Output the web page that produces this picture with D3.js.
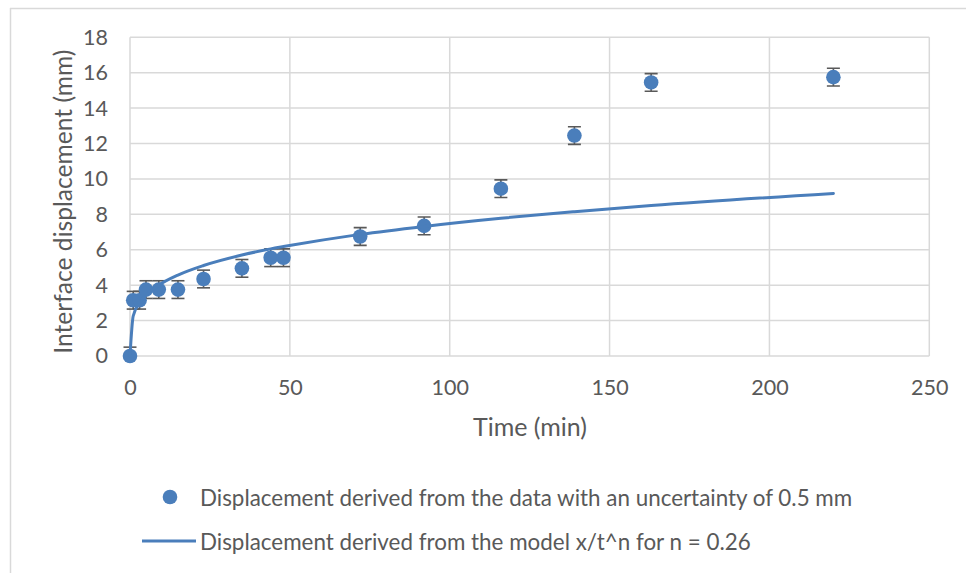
<!DOCTYPE html>
<html>
<head>
<meta charset="utf-8">
<script src="https://cdn.jsdelivr.net/npm/d3@7"></script>
<style>
  html, body { margin: 0; padding: 0; background: #fff; }
  svg { display: block; }
  text { font-family: Lato, "Open Sans", sans-serif; fill: #595959; }
</style>
</head>
<body>
<svg id="chart" width="966" height="573"></svg>
<script>
// Measured interface displacement (mm) against time (min)
const times = [0, 1, 3, 5, 9, 15, 23, 35, 44, 48, 72, 92, 116, 139, 163, 220];
const measured = [0, 3.15, 3.15, 3.75, 3.75, 3.75, 4.35, 4.95, 5.55, 5.55, 6.75, 7.35, 9.45, 12.45, 15.45, 15.75];
const uncertainty = 0.5;
// Model curve x/t^n (n = 0.26) evaluated at the same times
const model = [0, 2.26, 3.01, 3.43, 4.00, 4.57, 5.11, 5.70, 6.05, 6.18, 6.87, 7.32, 7.78, 8.15, 8.50, 9.18];

const xTicks = [0, 50, 100, 150, 200, 250];
const yTicks = [0, 2, 4, 6, 8, 10, 12, 14, 16, 18];

const xLabel = "Time (min)";
const yLabel = "Interface displacement (mm)";
const legendLabels = [
  "Displacement derived from the data with an uncertainty of 0.5 mm",
  "Displacement derived from the model x/t^n for n = 0.26"
];

const blue = "#4A7EBB";
const grid = "#d9d9d9";
const dark = "#595959";

const svg = d3.select("#chart");

// outer frame (top and left edges)
svg.append("line").attr("x1", 10).attr("x2", 966).attr("y1", 8.5).attr("y2", 8.5)
  .attr("stroke", grid).attr("stroke-width", 1.5);
svg.append("line").attr("x1", 10.5).attr("x2", 10.5).attr("y1", 8).attr("y2", 573)
  .attr("stroke", grid).attr("stroke-width", 1.5);

const x = d3.scaleLinear().domain([0, 250]).range([130, 929.3]);
const y = d3.scaleLinear().domain([0, 18]).range([356, 37.3]);

// gridlines
svg.append("g").selectAll("line").data(yTicks).join("line")
  .attr("x1", x(0)).attr("x2", x(250))
  .attr("y1", d => y(d)).attr("y2", d => y(d))
  .attr("stroke", grid).attr("stroke-width", 1.5);
svg.append("g").selectAll("line").data(xTicks).join("line")
  .attr("x1", d => x(d)).attr("x2", d => x(d))
  .attr("y1", y(0)).attr("y2", y(18))
  .attr("stroke", grid).attr("stroke-width", 1.5);

// axes (labels only)
const xAxis = svg.append("g").attr("transform", `translate(0,${y(0)})`)
  .call(d3.axisBottom(x).tickValues(xTicks).tickSize(0).tickPadding(24));
const yAxis = svg.append("g").attr("transform", `translate(${x(0)},0)`)
  .call(d3.axisLeft(y).tickValues(yTicks).tickSize(0).tickPadding(22));
[xAxis, yAxis].forEach(g => {
  g.select(".domain").remove();
  g.selectAll("text").attr("font-family", "Lato, sans-serif").attr("font-size", 21.5).attr("fill", dark);
});

// axis titles
svg.append("text").attr("x", 530).attr("y", 426).attr("text-anchor", "middle")
  .attr("dominant-baseline", "central").attr("font-size", 25).text(xLabel);
svg.append("text").attr("transform", `translate(62,${(y(0) + y(18)) / 2 + 5}) rotate(-90)`)
  .attr("text-anchor", "middle").attr("dominant-baseline", "central")
  .attr("font-size", 24.6).text(yLabel);

// clip for error bars
svg.append("clipPath").attr("id", "plot-clip").append("rect")
  .attr("x", x(0) - 20).attr("y", y(18)).attr("width", x(250) - x(0) + 40).attr("height", y(0) - y(18));

const pts = times.map((t, i) => ({ t, v: measured[i], m: model[i] }));

// error bars ±0.5 mm
const eb = svg.append("g").attr("clip-path", "url(#plot-clip)")
  .attr("stroke", dark).attr("stroke-width", 1.6);
const capW = 6.5;
pts.forEach(p => {
  const cx = x(p.t);
  eb.append("line").attr("x1", cx).attr("x2", cx)
    .attr("y1", y(p.v - uncertainty)).attr("y2", y(p.v + uncertainty));
  [p.v - uncertainty, p.v + uncertainty].forEach(e => {
    eb.append("line").attr("x1", cx - capW).attr("x2", cx + capW)
      .attr("y1", y(e)).attr("y2", y(e));
  });
});

// measured points
svg.append("g").selectAll("circle").data(pts).join("circle")
  .attr("cx", d => x(d.t)).attr("cy", d => y(d.v)).attr("r", 7.3)
  .attr("fill", blue);

// model curve
const line = d3.line().x(d => x(d.t)).y(d => y(d.m)).curve(d3.curveMonotoneX);
svg.append("path").datum(pts).attr("d", line)
  .attr("fill", "none").attr("stroke", blue).attr("stroke-width", 3)
  .attr("stroke-linecap", "round").attr("stroke-linejoin", "round");

// legend
const lg = svg.append("g");
lg.append("circle").attr("cx", 170).attr("cy", 497).attr("r", 7.3).attr("fill", blue);
lg.append("line").attr("x1", 142).attr("x2", 196).attr("y1", 541).attr("y2", 541)
  .attr("stroke", blue).attr("stroke-width", 3);
lg.selectAll("text").data(legendLabels).join("text")
  .attr("x", 200).attr("y", (d, i) => 497 + i * 44)
  .attr("dominant-baseline", "central").attr("font-size", 22.4).text(d => d);
</script>
</body>
</html>
